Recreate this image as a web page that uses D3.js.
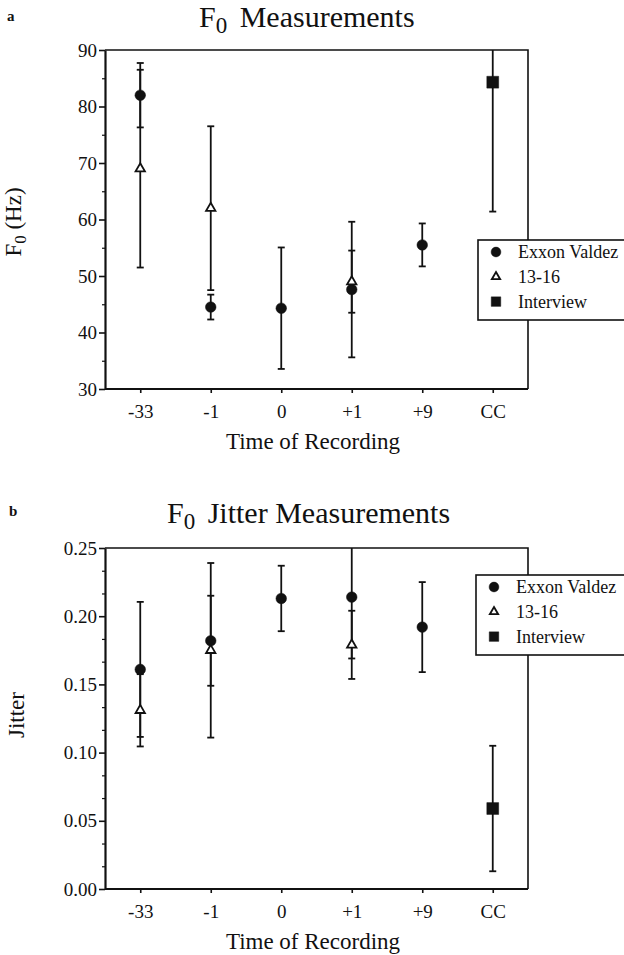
<!DOCTYPE html>
<html>
<head>
<meta charset="utf-8">
<script src="https://cdn.jsdelivr.net/npm/d3@7"></script>
<style>
  body { margin: 0; background: #fff; }
  svg { display: block; }
  .axis path, .axis line { stroke: #111; }
</style>
</head>
<body>
<div id="chart"></div>
<script>
// categories (time of recording)
const categories = ['-33', '-1', '0', '+1', '+9', 'CC'];
const seriesNames = ['Exxon Valdez', '13-16', 'Interview'];

// panel a: F0 (Hz)
const f0ExxonCats = ['-33', '-1', '0', '+1', '+9'];
const f0ExxonMean = [82.0, 44.5, 44.3, 47.6, 55.5];
const f0ExxonErr = [5.7, 2.2, 10.75, 12.0, 3.8];
const f0TeenCats = ['-33', '-1', '+1'];
const f0TeenMean = [69.0, 62.0, 49.0];
const f0TeenErr = [17.5, 14.5, 5.5];
const f0InterviewCats = ['CC'];
const f0InterviewMean = [84.3];
const f0InterviewErr = [22.9];
const f0Ticks = [30, 40, 50, 60, 70, 80, 90];
const f0MinorTicks = [35, 45, 55, 65, 75, 85];

// panel b: jitter
const jitExxonCats = ['-33', '-1', '0', '+1', '+9'];
const jitExxonMean = [0.161, 0.182, 0.213, 0.214, 0.192];
const jitExxonErr = [0.0495, 0.033, 0.024, 0.045, 0.033];
const jitTeenCats = ['-33', '-1', '+1'];
const jitTeenMean = [0.131, 0.175, 0.179];
const jitTeenErr = [0.0265, 0.064, 0.025];
const jitInterviewCats = ['CC'];
const jitInterviewMean = [0.059];
const jitInterviewErr = [0.046];
const jitTicks = [0.00, 0.05, 0.10, 0.15, 0.20, 0.25];
const jitMinorTicks = [];
for (let i = 0; i < 15; i++) {
    if (i % 3 !== 0) jitMinorTicks.push(i * 0.05 / 3);
}

const FONT = "'Liberation Serif', 'Times New Roman', serif";
const W = 624, H = 955;
const svg = d3.select('#chart').append('svg')
    .attr('width', W)
    .attr('height', H)
    .attr('font-family', FONT);

// 시리즈 묶기
function makeSeries(cats, mean, err) {
    return cats.map((c, i) => ({ cat: c, v: mean[i], e: err[i] }));
}

function drawPanel(opt) {
    const left = 105, right = 528;
    const top = opt.top, bottom = opt.bottom;

    const x = d3.scalePoint()
        .domain(categories)
        .range([left, right])
        .padding(0.5);
    const y = d3.scaleLinear()
        .domain(opt.domain)
        .range([bottom, top]);

    const g = svg.append('g');

    // clip for error bars running off the top
    const clipId = 'clip-' + opt.id;
    svg.append('clipPath').attr('id', clipId)
        .append('rect')
        .attr('x', left).attr('y', top)
        .attr('width', right - left).attr('height', bottom - top);

    // frame (top + right)
    g.append('path')
        .attr('d', `M${left},${top}H${right}V${bottom}`)
        .attr('fill', 'none')
        .attr('stroke', '#111')
        .attr('stroke-width', 1.6);

    // minor y ticks
    g.append('g')
        .attr('class', 'axis')
        .attr('transform', `translate(${left},0)`)
        .call(d3.axisLeft(y).tickValues(opt.minor).tickSize(3).tickFormat(''))
        .call(a => a.select('.domain').remove())
        .selectAll('line').attr('stroke-width', 1.2);

    // major y axis
    const ya = g.append('g')
        .attr('class', 'axis')
        .attr('transform', `translate(${left},0)`)
        .call(d3.axisLeft(y).tickValues(opt.ticks).tickSize(6).tickPadding(2)
            .tickFormat(opt.fmt).tickSizeOuter(0));
    ya.attr('font-family', FONT);
    ya.select('.domain').attr('stroke-width', 2.2);
    ya.selectAll('line').attr('stroke-width', 1.6);
    ya.selectAll('text').attr('font-size', 19).attr('font-family', FONT).attr('fill', '#111');

    // x axis
    const xa = g.append('g')
        .attr('class', 'axis')
        .attr('transform', `translate(0,${bottom})`)
        .call(d3.axisBottom(x).tickSize(4).tickPadding(12).tickSizeOuter(0));
    xa.attr('font-family', FONT);
    xa.select('.domain').attr('d', `M${left},0H${right}`).attr('stroke-width', 2.2);
    xa.selectAll('line').attr('stroke-width', 1.6);
    xa.selectAll('text').attr('font-size', 19).attr('font-family', FONT).attr('fill', '#111');

    // titles
    const title = svg.append('text')
        .attr('x', opt.titleX)
        .attr('y', opt.titleY)
        .attr('font-family', FONT)
        .attr('font-size', 30)
        .attr('fill', '#111');
    title.append('tspan').text('F');
    title.append('tspan').attr('font-size', 23).attr('dy', 6).text('0');
    title.append('tspan').attr('dy', -6).attr('dx', 5).text('\u00a0' + opt.titleRest);

    svg.append('text')
        .attr('x', opt.labelX)
        .attr('y', opt.labelY)
        .attr('font-family', FONT)
        .attr('font-size', 15)
        .attr('font-weight', 'bold')
        .attr('fill', '#111')
        .text(opt.label);

    svg.append('text')
        .attr('x', 313)
        .attr('y', bottom + 60)
        .attr('text-anchor', 'middle')
        .attr('font-family', FONT)
        .attr('font-size', 23)
        .attr('fill', '#111')
        .text('Time of Recording');

    const yt = svg.append('text')
        .attr('transform', `translate(${opt.yTitleX},${opt.yTitleY}) rotate(-90)`)
        .attr('text-anchor', 'middle')
        .attr('font-family', FONT)
        .attr('font-size', 23)
        .attr('fill', '#111');
    if (opt.yTitle === 'F0') {
        yt.append('tspan').text('F');
        yt.append('tspan').attr('font-size', 17).attr('dy', 5).text('0');
        yt.append('tspan').attr('dy', -5).text(' (Hz)');
    } else {
        yt.text(opt.yTitle);
    }

    // error bars
    const bars = g.append('g').attr('clip-path', `url(#${clipId})`);
    opt.series.forEach(s => {
        s.data.forEach(d => {
            const cx = x(d.cat);
            const y1 = y(d.v + d.e), y2 = y(d.v - d.e);
            bars.append('line')
                .attr('x1', cx).attr('x2', cx)
                .attr('y1', y1).attr('y2', y2)
                .attr('stroke', '#111').attr('stroke-width', 1.8);
            [y1, y2].forEach(yy => {
                bars.append('line')
                    .attr('x1', cx - 3.5).attr('x2', cx + 3.5)
                    .attr('y1', yy).attr('y2', yy)
                    .attr('stroke', '#111').attr('stroke-width', 1.8);
            });
        });
    });

    // markers
    opt.series.forEach(s => {
        g.append('g').selectAll('path')
            .data(s.data)
            .enter()
            .append('path')
            .attr('transform', d => `translate(${x(d.cat)},${y(d.v)})`)
            .attr('d', d3.symbol().type(s.shape).size(s.size))
            .attr('fill', s.fill)
            .attr('stroke', '#111')
            .attr('stroke-width', s.fill === '#fff' ? 1.8 : 0.5);
    });

    // legend
    const lg = svg.append('g').attr('transform', `translate(${opt.legendX},${opt.legendY})`);
    lg.append('rect')
        .attr('x', 0).attr('y', 0)
        .attr('width', 170).attr('height', 80)
        .attr('fill', '#fff')
        .attr('stroke', '#111')
        .attr('stroke-width', 1.6);
    opt.series.forEach((s, i) => {
        const ry = 12 + i * 24.8;
        lg.append('path')
            .attr('transform', `translate(18,${ry})`)
            .attr('d', d3.symbol().type(s.shape).size(s.legendSize))
            .attr('fill', s.fill)
            .attr('stroke', '#111')
            .attr('stroke-width', s.fill === '#fff' ? 1.8 : 0.5);
        lg.append('text')
            .attr('x', 40)
            .attr('y', ry)
            .attr('dy', '0.35em')
            .attr('font-family', FONT)
            .attr('font-size', 18)
            .attr('fill', '#111')
            .text(seriesNames[i]);
    });
}

function seriesFor(ex, teen, inter) {
    return [
        { data: ex, shape: d3.symbolCircle, size: 88, legendSize: 75, fill: '#111' },
        { data: teen, shape: d3.symbolTriangle, size: 38, legendSize: 30, fill: '#fff' },
        { data: inter, shape: d3.symbolSquare, size: 140, legendSize: 90, fill: '#111' }
    ];
}

drawPanel({
    id: 'a',
    top: 50, bottom: 389,
    domain: [30, 90],
    ticks: f0Ticks, minor: f0MinorTicks,
    fmt: d3.format('d'),
    titleX: 199, titleY: 27, titleRest: 'Measurements',
    label: 'a', labelX: 7, labelY: 21,
    yTitle: 'F0', yTitleX: 21, yTitleY: 222,
    legendX: 478, legendY: 240,
    series: seriesFor(
        makeSeries(f0ExxonCats, f0ExxonMean, f0ExxonErr),
        makeSeries(f0TeenCats, f0TeenMean, f0TeenErr),
        makeSeries(f0InterviewCats, f0InterviewMean, f0InterviewErr))
});

drawPanel({
    id: 'b',
    top: 548, bottom: 889,
    domain: [0, 0.25],
    ticks: jitTicks, minor: jitMinorTicks,
    fmt: d3.format('.2f'),
    titleX: 167, titleY: 523, titleRest: 'Jitter Measurements',
    label: 'b', labelX: 9, labelY: 516,
    yTitle: 'Jitter', yTitleX: 24, yTitleY: 715,
    legendX: 476, legendY: 575,
    series: seriesFor(
        makeSeries(jitExxonCats, jitExxonMean, jitExxonErr),
        makeSeries(jitTeenCats, jitTeenMean, jitTeenErr),
        makeSeries(jitInterviewCats, jitInterviewMean, jitInterviewErr))
});
</script>
</body>
</html>
